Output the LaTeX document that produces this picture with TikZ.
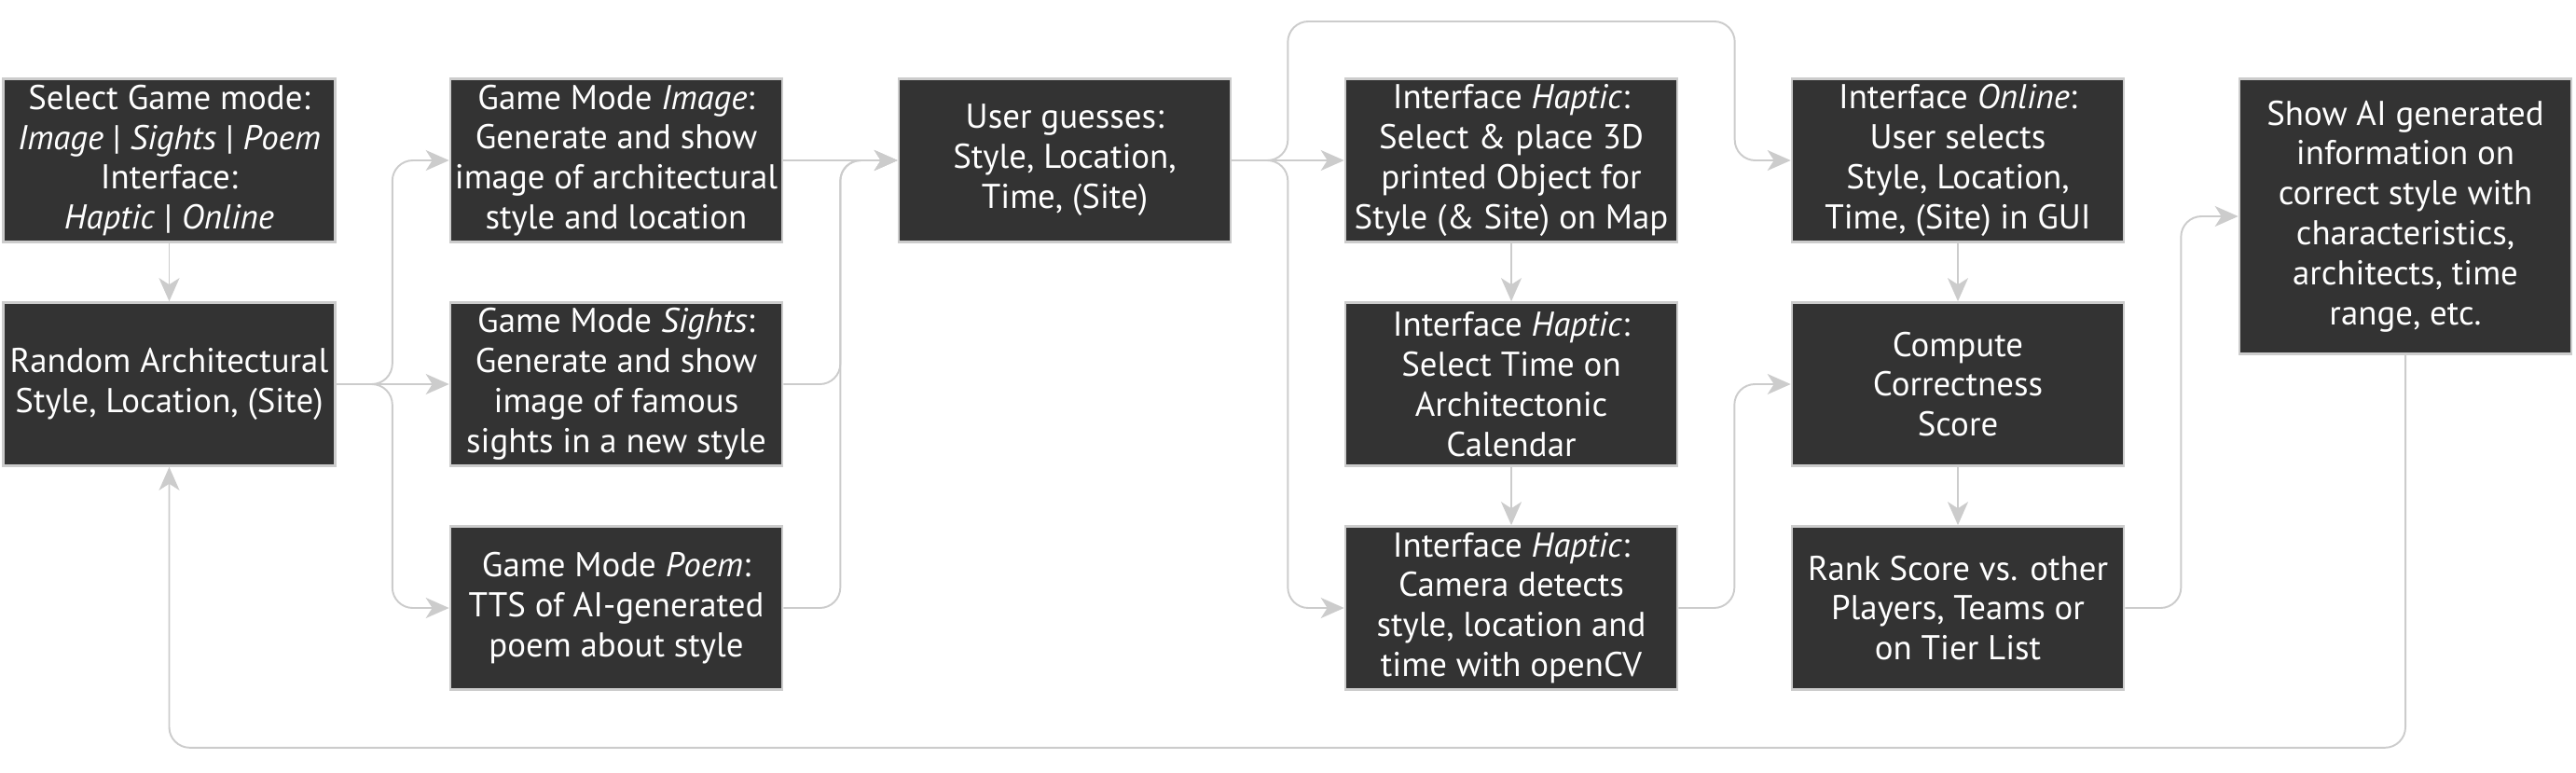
\documentclass[tikz,border=0pt]{standalone}
\usepackage{fontspec}
\setmainfont{PT Sans}
\usepackage{tikz}
\usetikzlibrary{arrows.meta, positioning, calc}

\definecolor{boxfill}{HTML}{333333}
\definecolor{edgegray}{HTML}{CCCCCC}

\begin{document}
\begin{tikzpicture}[
    box/.style={rectangle, draw=edgegray, line width=0.75pt, fill=boxfill, text=white, align=center,
        minimum width=3.56cm, minimum height=1.75cm, inner sep=1pt, font=\fontsize{10.5}{12.2}\selectfont},
    tallbox/.style={box, minimum height=2.95cm},
    link/.style={draw=edgegray, line width=0.55pt, rounded corners=0.22cm,
        -{Stealth[length=0.25cm, width=0.22cm, inset=0.07cm]}, edgegray}
]
\useasboundingbox (0,0) rectangle (27.63,-8.28);

% Column 1: mode selection and random style
\node[box] (selectMode) at (1.815, -1.72) {Select Game mode:\\\textit{Image} | \textit{Sights} | \textit{Poem}\\Interface:\\\textit{Haptic} | \textit{Online}};
\node[box] (randomStyle) at (1.815, -4.12) {Random Architectural\\Style, Location, (Site)};

% Column 2: the three game modes
\node[box] (modeImage) at (6.61, -1.72) {Game Mode \textit{Image}:\\Generate and show\\image of architectural\\style and location};
\node[box] (modeSights) at (6.61, -4.12) {Game Mode \textit{Sights}:\\Generate and show\\image of famous\\sights in a new style};
\node[box] (modePoem) at (6.61, -6.52) {Game Mode \textit{Poem}:\\TTS of AI-generated\\poem about style};

% Column 3: guessing
\node[box] (userGuess) at (11.42, -1.72) {User guesses:\\Style, Location,\\Time, (Site)};

% Column 4: haptic interface
\node[box] (hapticMap) at (16.21, -1.72) {Interface \textit{Haptic}:\\Select \& place 3D\\printed Object for\\Style (\& Site) on Map};
\node[box] (hapticTime) at (16.21, -4.12) {Interface \textit{Haptic}:\\Select Time on\\Architectonic\\Calendar};
\node[box] (hapticCam) at (16.21, -6.52) {Interface \textit{Haptic}:\\Camera detects\\style, location and\\time with openCV};

% Column 5: online interface and scoring
\node[box] (onlineGui) at (21.00, -1.72) {Interface \textit{Online}:\\User selects\\Style, Location,\\Time, (Site) in GUI};
\node[box] (computeScore) at (21.00, -4.12) {Compute\\Correctness\\Score};
\node[box] (rankScore) at (21.00, -6.52) {Rank Score vs. other\\Players, Teams or\\on Tier List};

% Column 6: AI information
\node[tallbox] (showInfo) at (25.80, -2.32) {Show AI generated\\information on\\correct style with\\characteristics,\\architects, time\\range, etc.};

% Mode selection
\draw[link] (selectMode) -- (randomStyle);
\draw[link] (randomStyle.east) -- (modeSights.west);
\draw[link] (randomStyle.east) -- ++(0.6,0) |- (modeImage.west);
\draw[link] (randomStyle.east) -- ++(0.6,0) |- (modePoem.west);

% Modes into guessing
\draw[link] (modeImage.east) -- (userGuess.west);
\draw[link] (modeSights.east) -- ++(0.61,0) |- (userGuess.west);
\draw[link] (modePoem.east) -- ++(0.61,0) |- (userGuess.west);

% Guessing into the interfaces
\coordinate (topRail) at (0, -0.23);
\draw[link] (userGuess.east) -- (hapticMap.west);
\draw[link] (userGuess.east) -- ++(0.6,0) |- (hapticCam.west);
\draw[link] (userGuess.east) -- ++(0.6,0) coordinate (G1) -- (G1 |- topRail) -| ([xshift=-0.6cm]onlineGui.west) -- (onlineGui.west);

% Haptic chain
\draw[link] (hapticMap) -- (hapticTime);
\draw[link] (hapticTime) -- (hapticCam);
\draw[link] (hapticCam.east) -- ++(0.6,0) |- (computeScore.west);

% Online chain and scoring
\draw[link] (onlineGui) -- (computeScore);
\draw[link] (computeScore) -- (rankScore);
\draw[link] (rankScore.east) -- ++(0.6,0) |- (showInfo.west);

% Loop back to a new round
\draw[link] (showInfo.south) -- ++(0,-4.21) coordinate (B1) -| (randomStyle.south);
\end{tikzpicture}
\end{document}
